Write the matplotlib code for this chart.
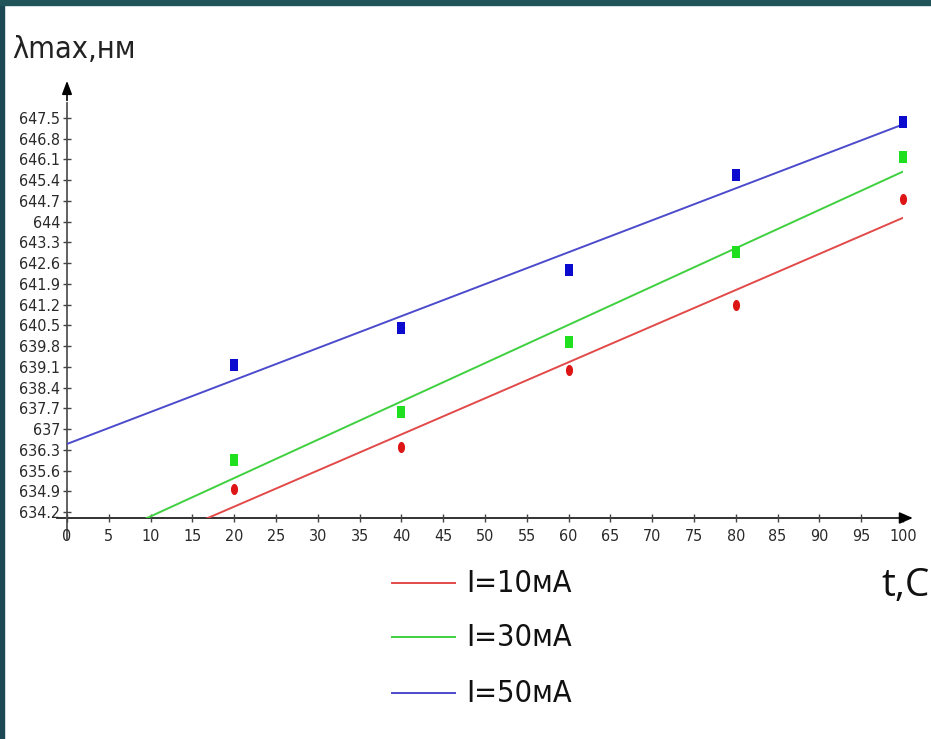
import matplotlib
matplotlib.use('Agg')
import matplotlib.pyplot as plt
import numpy as np
from matplotlib.patches import Rectangle
from matplotlib.lines import Line2D

# measured peak wavelength vs temperature, for three currents
temps = [20, 40, 60, 80, 100]
lam_10 = [634.97, 636.39, 638.99, 641.18, 644.76]
lam_30 = [635.95, 637.57, 639.93, 642.97, 646.18]
lam_50 = [639.16, 640.40, 642.36, 645.57, 647.36]
labels = ['I=10мА', 'I=30мА', 'I=50мА']

x_ticks = list(range(0, 101, 5))
y_ticks = [634.2, 634.9, 635.6, 636.3, 637, 637.7, 638.4, 639.1, 639.8, 640.5,
           641.2, 641.9, 642.6, 643.3, 644, 644.7, 645.4, 646.1, 646.8, 647.5]
y_ticklabels = ['634.2', '634.9', '635.6', '636.3', '637', '637.7', '638.4', '639.1',
                '639.8', '640.5', '641.2', '641.9', '642.6', '643.3', '644', '644.7',
                '645.4', '646.1', '646.8', '647.5']

W, H = 931, 739
narrow = dict(family='DejaVu Sans', stretch='condensed')

fig = plt.figure(figsize=(W / 100, H / 100), dpi=100, facecolor='white')

# dark slide frame on the left and top
fig.patches.append(Rectangle((0, 0), 4 / W, 1, transform=fig.transFigure,
                             color='#1b4853', zorder=0))
fig.patches.append(Rectangle((0, 1 - 5 / H), 1, 5 / H, transform=fig.transFigure,
                             color='#215459', zorder=0))

ax = fig.add_axes([67 / W, (H - 518) / H, 836 / W, 400 / H])
ax.set_xlim(0, 100)
ax.set_ylim(634.0, 647.5)
for s in ax.spines.values():
    s.set_visible(False)
ax.patch.set_alpha(0)

# axes with arrows
ax.plot([-1.2, 100.5], [634.0, 634.0], color='#222222', lw=1.3, clip_on=False, zorder=1)
ax.plot([0, 0], [633.3, 648.0], color='#555555', lw=1.3, clip_on=False, zorder=1)
ax.annotate('', xy=(101.5, 634.0), xytext=(99.5, 634.0),
            arrowprops=dict(arrowstyle='-|>,head_length=0.8,head_width=0.35',
                            color='black', lw=1.2), annotation_clip=False)
ax.annotate('', xy=(0, 648.85), xytext=(0, 648.0),
            arrowprops=dict(arrowstyle='-|>,head_length=0.8,head_width=0.3',
                            color='black', lw=1.2), annotation_clip=False)

ax.set_xticks(x_ticks)
ax.set_xticklabels([str(v) for v in x_ticks], **narrow)
ax.set_yticks(y_ticks)
ax.set_yticklabels(y_ticklabels, **narrow)
ax.tick_params(direction='inout', length=6, width=1, color='#444444',
               labelcolor='#2a2a2a', labelsize=11.5)
ax.tick_params(axis='x', pad=5)
ax.tick_params(axis='y', pad=2)

rect = [(-0.33, -0.5), (0.33, -0.5), (0.33, 0.5), (-0.33, 0.5)]
ang = np.linspace(0, 2 * np.pi, 40)
oval = list(zip(0.32 * np.cos(ang), 0.5 * np.sin(ang)))

series = [
    (lam_10, '#dd1515', '#e24a4a', oval, 8.0),
    (lam_30, '#1fdf1f', '#3fd03f', rect, 8.6),
    (lam_50, '#0b0bcf', '#4b4bcc', rect, 8.6),
]
t_line = np.array([0, 100])
for vals, mcol, lcol, mk, ms in series:
    k, b = np.polyfit(temps, vals, 1)
    ax.plot(t_line, k * t_line + b, color=lcol, lw=1.4, zorder=2)
    ax.plot(temps, vals, linestyle='none', marker=mk, markersize=ms,
            color=mcol, markeredgewidth=0, zorder=3, clip_on=False)

# axis titles
fig.text(12 / W, 1 - 58 / H, 'λmax,нм', fontsize=22,
         color='#222222', va='baseline', ha='left', **narrow)
fig.text(930 / W, 1 - 596 / H, 't,C', family=['Open Sans', 'DejaVu Sans'],
         fontsize=28, color='#111111', va='baseline', ha='right')

# legend drawn beside the x axis
leg_y = [583, 637, 693]
for (vals, mcol, lcol, mk, ms), lab, yy in zip(series, labels, leg_y):
    fig.add_artist(Line2D([392 / W, 455 / W], [1 - yy / H, 1 - yy / H],
                          color=lcol, lw=1.4, transform=fig.transFigure))
    fig.text(466 / W, 1 - yy / H, lab, fontsize=22,
             color='#111111', va='center', ha='left', **narrow)

fig.savefig('out.png', dpi=100, facecolor='white')
